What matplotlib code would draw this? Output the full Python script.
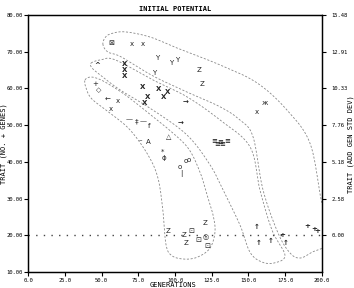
import numpy as np
import matplotlib
matplotlib.use("Agg")
import matplotlib.pyplot as plt

plt.rcParams['font.family'] = ['DejaVu Sans Mono', 'DejaVu Sans']

# ---- data ----
x_ticks = [0, 25, 50, 75, 100, 125, 150, 175, 200]
y_ticks = [10, 20, 30, 40, 50, 60, 70, 80]
right_ticks = [0.00, 2.58, 5.18, 7.76, 10.33, 12.91, 15.48]
baseline = 20.0

# group A symbols
a_x = [56.5, 70.7, 78.2, 87.8, 97.3, 101.4, 85.7, 116.3, 118.4, 161.2, 155.8]
a_y = [72.4, 72.1, 72.1, 68.3, 66.9, 67.8, 64.2, 65.0, 61.2, 56.0, 53.6]
a_s = ['⊠', 'x', 'x', 'Y', 'Y', 'Y', 'Y', 'Z', 'Z', 'ж', 'x']

# group B symbols
b_x = [46.9, 66.0, 66.0, 66.0, 78.2, 89.1, 94.6, 92.5, 81.0, 79.6, 107.5, 104.0,
       126.5, 128.6, 130.6, 132.0, 135.4]
b_y = [66.4, 66.6, 65.0, 63.4, 60.4, 59.9, 59.0, 57.7, 57.7, 56.0, 56.3, 50.6,
       46.0, 45.1, 45.7, 45.1, 46.0]
b_s = ['^', 'X', 'X', 'X', 'X', 'X', 'X', 'X', 'X', 'X', '→', '→',
       '≡', '≡', '≡', '≡', '≡']

# group C symbols
c_x = [45.6, 48.3, 54.4, 61.2, 56.5, 68.7, 74.1, 78.2, 82.3, 76.2, 81.6, 95.9,
       91.2, 92.5, 103.4, 107.5, 109.5, 104.1,
       95.2, 106.1, 107.5, 120.4, 110.9, 115.6, 121.1, 121.8]
c_y = [61.2, 59.6, 56.9, 56.6, 54.4, 51.7, 50.9, 51.1, 49.8, 46.0, 45.4, 46.8,
       42.7, 41.1, 38.6, 40.2, 40.5, 36.7,
       21.2, 20.1, 17.9, 23.4, 21.2, 18.7, 19.5, 17.1]
c_s = ['+', '◇', '←', 'x', 'x', '—', '‡', '—', 'f', '–', 'A', '△',
       '*', 'ɸ', 'o', 'o', 'o', '|',
       'Z', 'Z', 'Z', 'Z', '⊡', '⊡', '◎', '⊡']

# group D symbols (bottom right)
d_x = [155.8, 157.0, 165.3, 175.5, 172.8, 189.8, 194.6, 196.6]
d_y = [22.3, 17.9, 18.4, 17.9, 20.1, 22.5, 21.7, 21.2]
d_s = ['↑', '↑', '↑', '↑', '+', '+', '+', '+']

# envelopes
env1_x = [51.0, 52.4, 56.5, 66.0, 83.0, 101.4, 130.6, 155.8, 176.2, 191.8, 199.3, 205.4,
          193.2, 185.0, 178.2, 170.1, 159.9, 153.1, 144.2, 130.6, 108.2, 85.0, 63.3, 54.4]
env1_y = [71.9, 73.8, 74.9, 75.4, 74.0, 71.0, 66.4, 61.5, 54.1, 45.1, 29.9, 18.7,
          15.4, 13.8, 15.2, 20.6, 32.3, 46.8, 51.4, 55.0, 59.0, 63.4, 68.6, 69.9]
env2_x = [42.9, 49.7, 59.2, 85.0, 108.2, 130.6, 151.0, 157.8, 166.0, 174.8, 168.0,
          159.2, 151.0, 144.2, 132.7, 123.8, 108.2, 85.0, 62.6, 49.0, 43.5]
env2_y = [66.9, 67.8, 67.8, 62.3, 57.7, 51.4, 44.1, 32.3, 21.4, 14.6, 12.5,
          12.7, 15.4, 22.8, 32.3, 39.2, 47.3, 54.1, 59.6, 63.7, 65.6]
env3_x = [38.8, 42.9, 49.7, 59.2, 68.0, 81.0, 94.6, 108.8, 117.0, 121.8, 125.9, 127.2,
          123.8, 115.6, 106.8, 98.0, 93.9, 91.8, 88.4, 81.6, 69.4, 55.8, 43.5, 39.5]
env3_y = [62.3, 63.1, 62.3, 60.1, 57.7, 53.6, 49.2, 43.8, 37.2, 31.0, 25.5, 20.9,
          16.5, 14.1, 13.5, 14.4, 17.4, 26.6, 35.6, 41.9, 48.7, 53.3, 57.1, 60.1]


def smooth_loop(xs, ys, n=24):
    # closed Catmull-Rom spline through the outline points
    p = np.column_stack([xs, ys])
    m = len(p)
    t = np.linspace(0, 1, n, endpoint=False)[:, None]
    segs = []
    for i in range(m):
        p0, p1, p2, p3 = p[(i - 1) % m], p[i], p[(i + 1) % m], p[(i + 2) % m]
        segs.append(0.5 * (2 * p1 + (p2 - p0) * t + (2 * p0 - 5 * p1 + 4 * p2 - p3) * t ** 2
                           + (3 * p1 - p0 - 3 * p2 + p3) * t ** 3))
    out = np.vstack(segs + [p[:1]])
    return out[:, 0], out[:, 1]


fig = plt.figure(figsize=(3.54, 2.88), dpi=100)
ax = fig.add_axes([0.0791, 0.0556, 0.8305, 0.8924])

ax.axhline(baseline, color='#444444', lw=1.0, ls=(0, (1, 4.5)))

for ex, ey in [(env1_x, env1_y), (env2_x, env2_y), (env3_x, env3_y)]:
    sx, sy = smooth_loop(ex, ey)
    ax.plot(sx, sy, color='#888888', lw=0.6, ls=(0, (2.5, 2)))

for xs, ys, ss, w in [(a_x, a_y, a_s, 'normal'), (b_x, b_y, b_s, 'bold'),
                      (c_x, c_y, c_s, 'normal'), (d_x, d_y, d_s, 'bold')]:
    for xv, yv, sv in zip(xs, ys, ss):
        ax.text(xv, yv, sv, fontsize=5, fontweight=w, ha='center', va='center',
                color='#222222', family=['DejaVu Sans', 'DejaVu Sans Mono'])

ax.set_xlim(0, 200)
ax.set_ylim(10, 80)
ax.set_xticks(x_ticks)
ax.set_xticklabels([f"{v:.1f}" for v in x_ticks])
ax.set_yticks(y_ticks)
ax.set_yticklabels([f"{v:.2f}" for v in y_ticks])
ax.tick_params(direction='out', length=3, width=0.8, labelsize=4, pad=1)

ax2 = ax.twinx()
ax2.set_ylim((10 - baseline) * 15.48 / 60, (80 - baseline) * 15.48 / 60)
ax2.set_yticks(right_ticks)
ax2.set_yticklabels([f"{v:.2f}" for v in right_ticks])
ax2.tick_params(direction='out', length=3, width=0.8, labelsize=4, pad=4)

for a in (ax, ax2):
    for s in a.spines.values():
        s.set_linewidth(0.9)

ax.set_title("INITIAL POTENTIAL", fontsize=5, pad=3, fontweight='bold')
fig.text(0.49, 0.0, "GENERATIONS", fontsize=5, ha='center', va='bottom')
fig.text(0.002, 0.5, "TRAIT (NO. + GENES)", fontsize=5, rotation=90,
         ha='left', va='center')
fig.text(0.999, 0.5, "TRAIT (ADD GEN STD DEV)", fontsize=5, rotation=90,
         ha='right', va='center')

fig.savefig("out.png", dpi=100)
